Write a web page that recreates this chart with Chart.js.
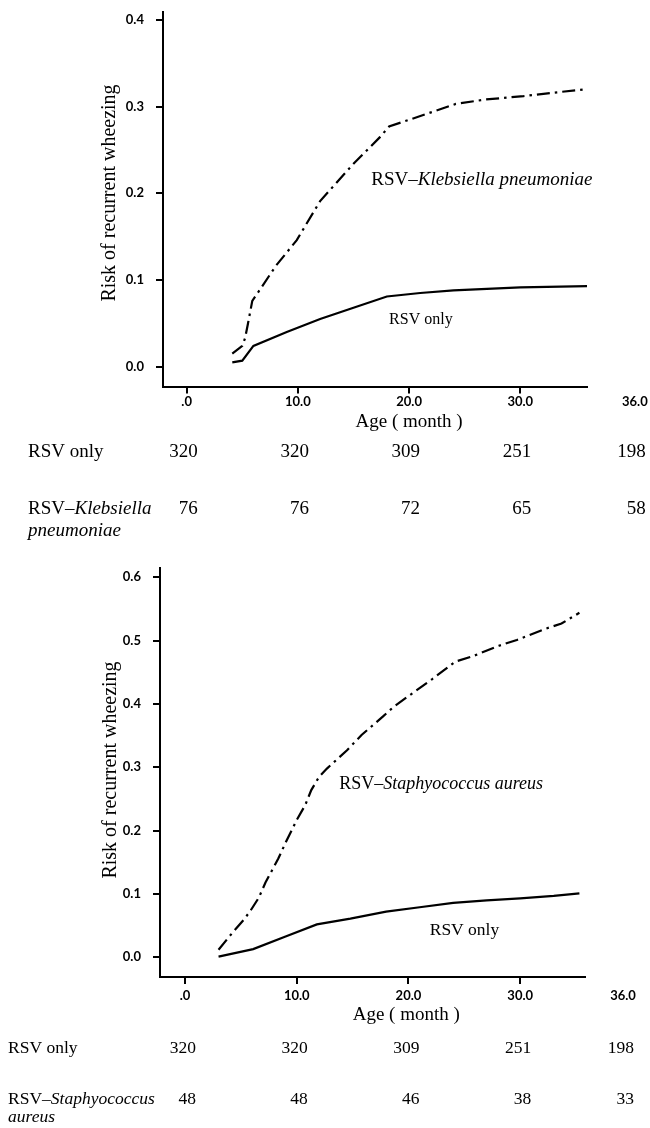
<!DOCTYPE html>
<html>
<head>
<meta charset="utf-8">
<script src="https://cdn.jsdelivr.net/npm/chart.js@4.4.1/dist/chart.umd.min.js"></script>
<style>
  body { margin: 0; background: #fff; }
  .painel { position: absolute; left: 0; width: 650px; }
</style>
</head>
<body>
<div class="painel" style="top:0;height:560px"><canvas id="grafTopo" width="650" height="560"></canvas></div>
<div class="painel" style="top:560px;height:568px"><canvas id="grafBaixo" width="650" height="568"></canvas></div>
<script>
// Ticks dos eixos
const ticksX = [0, 10, 20, 30];
const ticksYTopo = [0, 0.1, 0.2, 0.3, 0.4];
const ticksYBaixo = [0, 0.1, 0.2, 0.3, 0.4, 0.5, 0.6];
const rotuloUltimoMes = '36.0';

// Painel de cima: RSV only x RSV–Klebsiella pneumoniae
const mesesRsvTopo = [4.1, 5.0, 6.0, 9.0, 12.0, 15.0, 18.0, 21.0, 24.0, 30.0, 36.0];
const riscoRsvTopo = [0.005, 0.007, 0.024, 0.040, 0.055, 0.068, 0.081, 0.085, 0.088, 0.0915, 0.093];
const mesesKleb = [4.1, 5.0, 5.25, 5.5, 5.9, 6.7, 8.0, 9.9, 12.0, 15.0, 17.4, 18.2, 20.3, 24.2, 26.8, 30.3, 33.0, 36.0];
const riscoKleb = [0.015, 0.024, 0.033, 0.049, 0.076, 0.091, 0.116, 0.146, 0.191, 0.234, 0.265, 0.277, 0.286, 0.303, 0.308, 0.312, 0.316, 0.320];

// Painel de baixo: RSV only x RSV–Staphyococcus aureus
const mesesRsvBaixo = [3.0, 6.1, 9.0, 11.8, 14.8, 18.0, 21.0, 24.0, 27.0, 30.0, 33.0, 35.3];
const riscoRsvBaixo = [0.001, 0.013, 0.033, 0.052, 0.061, 0.072, 0.079, 0.086, 0.090, 0.093, 0.097, 0.101];
const mesesStaph = [3.0, 4.3, 5.2, 5.8, 6.6, 7.2, 8.35, 9.0, 10.0, 10.75, 11.3, 12.0, 12.7, 14.5, 15.8, 17.7, 18.7, 20.6, 22.1, 24.2, 25.7, 28.1, 29.7, 32.3, 33.7, 35.3];
const riscoStaph = [0.012, 0.040, 0.058, 0.072, 0.094, 0.118, 0.156, 0.181, 0.217, 0.240, 0.264, 0.285, 0.298, 0.327, 0.351, 0.380, 0.396, 0.420, 0.439, 0.467, 0.475, 0.492, 0.501, 0.519, 0.527, 0.544];

// Numero em risco (tabela abaixo de cada grafico)
const nRsvTopo = [320, 320, 309, 251, 198];
const nKleb = [76, 76, 72, 65, 58];
const nRsvBaixo = [320, 320, 309, 251, 198];
const nStaph = [48, 48, 46, 38, 33];

const SERIF = '"Liberation Serif", "Times New Roman", serif';
const FONTE_TICK = { family: 'Lato', weight: 'bold', size: 13 };

const painelTopo = {
    altura: 560,
    area: { left: 163, top: 12, right: 587, bottom: 386.5 },
    xMin: -2.13, xMax: 36.0, yMin: -0.0228, yMax: 0.409,
    ticksY: ticksYTopo,
    padX: 1, offRotuloX: 15.5,
    series: [
        { meses: mesesRsvTopo, risco: riscoRsvTopo, tracejado: false },
        { meses: mesesKleb, risco: riscoKleb, tracejado: true }
    ],
    rotulos: [
        { partes: [['RSV–', false], ['Klebsiella pneumoniae', true]], x: 16.6, y: 0.215, tam: 19 },
        { partes: [['RSV only', false]], x: 18.2, y: 0.054, tam: 16 }
    ],
    tituloY: { x: 110, y: 193 },
    tituloX: { mes: 20, y: 421.7 },
    colunas: [0, 10, 20, 30, 40.3],
    tabela: {
        x: 28, tam: 19,
        linhas: [
            { partes: [['RSV only', false]], y: 452, n: nRsvTopo },
            { partes: [['RSV–', false], ['Klebsiella', true]], y: 509, n: nKleb },
            { partes: [['pneumoniae', true]], y: 531, n: null }
        ]
    }
};

const painelBaixo = {
    altura: 568,
    area: { left: 160, top: 8, right: 585, bottom: 417 },
    xMin: -2.24, xMax: 35.8, yMin: -0.0311, yMax: 0.6147,
    ticksY: ticksYBaixo,
    padX: 4, offRotuloX: 18.8,
    series: [
        { meses: mesesRsvBaixo, risco: riscoRsvBaixo, tracejado: false },
        { meses: mesesStaph, risco: riscoStaph, tracejado: true }
    ],
    rotulos: [
        { partes: [['RSV–', false], ['Staphyococcus', true], [' ', false], ['aureus', true]], x: 13.8, y: 0.274, tam: 18 },
        { partes: [['RSV only', false]], x: 21.9, y: 0.043, tam: 17.5 }
    ],
    tituloY: { x: 111, y: 210 },
    tituloX: { mes: 19.8, y: 455 },
    colunas: [0, 10, 20, 30, 39.2],
    tabela: {
        x: 8, tam: 17.5,
        linhas: [
            { partes: [['RSV only', false]], y: 488, n: nRsvBaixo },
            { partes: [['RSV–', false], ['Staphyococcus', true]], y: 539, n: nStaph },
            { partes: [['aureus', true]], y: 557.5, n: null }
        ]
    }
};

// escreve pedacos de texto (normal / italico) em sequencia
function escreveTrechos(ctx, partes, x, y, tam) {
    let cx = x;
    partes.forEach(([txt, italico]) => {
        ctx.font = (italico ? 'italic ' : '') + tam + 'px ' + SERIF;
        ctx.fillText(txt, cx, y);
        cx += ctx.measureText(txt).width;
    });
}

function pluginTextos(painel) {
    return {
        id: 'textos',
        afterDraw(chart) {
            const ctx = chart.ctx;
            const escX = chart.scales.x;
            const escY = chart.scales.y;
            ctx.save();
            ctx.fillStyle = '#000';
            ctx.textBaseline = 'middle';

            // titulo do eixo y
            ctx.save();
            ctx.translate(painel.tituloY.x, painel.tituloY.y);
            ctx.rotate(-Math.PI / 2);
            ctx.textAlign = 'center';
            ctx.font = '20px ' + SERIF;
            ctx.fillText('Risk of recurrent wheezing', 0, 0);
            ctx.restore();

            // rotulo extra "36.0" fora do eixo
            const ultima = painel.colunas[painel.colunas.length - 1];
            ctx.textAlign = 'center';
            ctx.font = 'bold ' + FONTE_TICK.size + 'px Lato';
            ctx.fillText(rotuloUltimoMes, escX.getPixelForValue(ultima), painel.area.bottom + painel.offRotuloX);

            // titulo do eixo x
            ctx.font = '19px ' + SERIF;
            ctx.fillText('Age ( month )', escX.getPixelForValue(painel.tituloX.mes), painel.tituloX.y);

            // nomes das curvas
            ctx.textAlign = 'left';
            painel.rotulos.forEach(r => {
                escreveTrechos(ctx, r.partes, escX.getPixelForValue(r.x), escY.getPixelForValue(r.y), r.tam);
            });

            // tabela de numero em risco
            const tab = painel.tabela;
            tab.linhas.forEach(linha => {
                ctx.textAlign = 'left';
                escreveTrechos(ctx, linha.partes, tab.x, linha.y, tab.tam);
                if (!linha.n) return;
                ctx.textAlign = 'right';
                ctx.font = tab.tam + 'px ' + SERIF;
                linha.n.forEach((valor, i) => {
                    ctx.fillText(String(valor), escX.getPixelForValue(painel.colunas[i]) + 11, linha.y);
                });
            });
            ctx.restore();
        }
    };
}

function montaGrafico(idCanvas, painel) {
    const datasets = painel.series.map(s => ({
        data: s.meses.map((m, i) => ({ x: m, y: s.risco[i] })),
        borderColor: '#000',
        borderWidth: 2.2,
        borderDash: s.tracejado ? [13, 5, 2.5, 5] : [],
        pointRadius: 0,
        tension: 0,
        fill: false
    }));

    const alturaX = 30;
    const config = {
        type: 'line',
        data: { datasets: datasets },
        options: {
            responsive: false,
            animation: false,
            layout: {
                padding: {
                    left: 0,
                    top: painel.area.top,
                    right: 650 - painel.area.right,
                    bottom: painel.altura - painel.area.bottom - alturaX
                }
            },
            plugins: { legend: { display: false }, tooltip: { enabled: false } },
            scales: {
                x: {
                    type: 'linear',
                    min: painel.xMin,
                    max: painel.xMax,
                    afterBuildTicks: (esc) => { esc.ticks = ticksX.map(v => ({ value: v })); },
                    afterFit: (esc) => {
                        esc.height = alturaX;
                        esc.paddingLeft = 0;
                        esc.paddingRight = 0;
                    },
                    ticks: {
                        color: '#000',
                        padding: painel.padX,
                        maxRotation: 0,
                        font: FONTE_TICK,
                        callback: (v) => v === 0 ? '.0' : v.toFixed(1)
                    },
                    grid: { drawOnChartArea: false, drawTicks: true, tickLength: 7, color: '#000', lineWidth: 2 },
                    border: { display: true, color: '#000', width: 2 }
                },
                y: {
                    type: 'linear',
                    min: painel.yMin,
                    max: painel.yMax,
                    afterBuildTicks: (esc) => { esc.ticks = painel.ticksY.map(v => ({ value: v })); },
                    afterFit: (esc) => {
                        // largura fixa e sem folga extra em cima/baixo
                        esc.width = painel.area.left;
                        esc.paddingTop = 0;
                        esc.paddingBottom = 0;
                    },
                    ticks: {
                        color: '#000',
                        padding: 12,
                        font: FONTE_TICK,
                        callback: (v) => v.toFixed(1)
                    },
                    grid: { drawOnChartArea: false, drawTicks: true, tickLength: 7, color: '#000', lineWidth: 2 },
                    border: { display: true, color: '#000', width: 2 }
                }
            }
        },
        plugins: [pluginTextos(painel)]
    };

    return new Chart(document.getElementById(idCanvas), config);
}

montaGrafico('grafTopo', painelTopo);
montaGrafico('grafBaixo', painelBaixo);
</script>
</body>
</html>
